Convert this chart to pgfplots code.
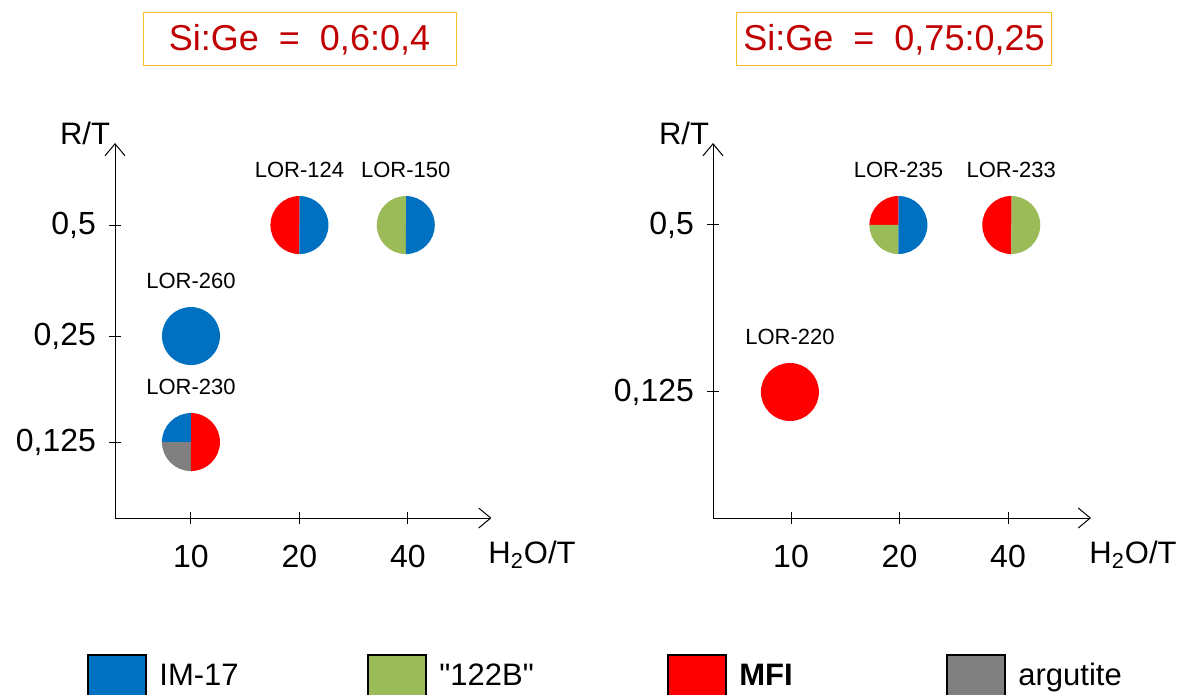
\documentclass[border=0pt]{standalone}
\usepackage{pgfplots}
\pgfplotsset{compat=1.18}
\usepackage{fontspec}
\setmainfont{Liberation Sans}[Ligatures=TeXOff]
\usetikzlibrary{arrows.meta}
\definecolor{imblue}{HTML}{0070C0}
\definecolor{grn}{HTML}{9BBB59}
\definecolor{mfired}{HTML}{FF0000}
\definecolor{gry}{HTML}{808080}
\definecolor{titlered}{HTML}{C00000}
\definecolor{boxorange}{RGB}{250,192,40}
% one wedge of a pie mark: colour, start angle, end angle
\newcommand{\piewedge}[3]{%
  \pgfpathmoveto{\pgfpointorigin}%
  \pgfpathlineto{\pgfpointpolar{#2}{14.5pt}}%
  \pgfpatharc{#2}{#3}{14.5pt}%
  \pgfpathclose
  \pgfsetfillcolor{#1}%
  \pgfusepath{fill}}
% pie marks: quadrants Q1 (top right), Q2 (top left), Q3 (bottom left), Q4 (bottom right)
\newcommand{\declarepie}[5]{%
 \pgfdeclareplotmark{#1}{%
  \piewedge{#2}{0}{90}\piewedge{#3}{90}{180}\piewedge{#4}{180}{270}\piewedge{#5}{270}{360}}}
\declarepie{pie124}{imblue}{mfired}{mfired}{imblue}
\declarepie{pie150}{imblue}{grn}{grn}{imblue}
\declarepie{pie260}{imblue}{imblue}{imblue}{imblue}
\declarepie{pie230}{mfired}{imblue}{gry}{mfired}
\declarepie{pie235}{imblue}{mfired}{grn}{imblue}
\declarepie{pie233}{grn}{mfired}{mfired}{grn}
\declarepie{pie220}{mfired}{mfired}{mfired}{mfired}
\tikzset{lorlabel/.style={font=\fontsize{11}{13}\selectfont, yshift=27.5pt}}
\pgfplotsset{
 swatch/.style={legend image code/.code={\draw[##1, draw=black, line width=1pt] (0pt,-10.5pt) rectangle (29pt,10.5pt);}},
 pieaxis/.style={
  axis lines=left,
  axis line style={line width=0.5pt, black, -{Straight Barb[length=6pt,width=10pt]}},
  x=54.25pt,
  clip=false,
  tick align=center,
  major tick length=6pt,
  tick style={black, line width=0.5pt},
  xtick={1,2,3},
  xticklabels={10,20,40},
  ticklabel style={font=\fontsize{16}{19}\selectfont},
  xticklabel style={yshift=-7pt},
  yticklabel style={xshift=-3pt},
 },
}
\begin{document}
\begin{tikzpicture}
\useasboundingbox (0,0) rectangle (592pt,-347.5pt);
% ---- left panel ----
\begin{axis}[pieaxis,
  at={(57.5pt,-259pt)}, anchor=south west,
  y=54.25pt,
  xmin=0.3, xmax=3.77, ymin=0.3, ymax=3.756,
  ytick={1,1.977,3},
  yticklabels={{0,125},{0,25},{0,5}},
  legend style={at={(-0.0743,-0.4213)}, anchor=west, draw=none, fill=none, inner sep=0pt,
    legend columns=4,
    /tikz/every odd column/.append style={column sep=6pt},
    nodes={inner sep=0pt, font=\fontsize{15.5}{18}\selectfont}},
  legend cell align=left,
]
\addplot[only marks, mark=pie124, forget plot] coordinates {(2,3)};
\addplot[only marks, mark=pie150, forget plot] coordinates {(2.98,3)};
\addplot[only marks, mark=pie260, forget plot] coordinates {(1,1.977)};
\addplot[only marks, mark=pie230, forget plot] coordinates {(1,1)};
\node[lorlabel] at (axis cs:2,3) {LOR-124};
\node[lorlabel] at (axis cs:2.98,3) {LOR-150};
\node[lorlabel] at (axis cs:1,1.977) {LOR-260};
\node[lorlabel] at (axis cs:1,1) {LOR-230};
\addlegendimage{swatch, fill=imblue}
\addlegendentry{\makebox[104pt][l]{IM-17}}
\addlegendimage{swatch, fill=grn}
\addlegendentry{\makebox[114pt][l]{"122B"}}
\addlegendimage{swatch, fill=mfired}
\addlegendentry{\makebox[103.5pt][l]{\textbf{MFI}}}
\addlegendimage{swatch, fill=gry}
\addlegendentry{argutite}
\end{axis}
% ---- right panel ----
\begin{axis}[pieaxis,
  at={(356.5pt,-259pt)}, anchor=south west,
  y=83.5pt,
  xmin=0.281, xmax=3.765, ymin=0.2455, ymax=2.491,
  ytick={1,2},
  yticklabels={{0,125},{0,5}},
]
\addplot[only marks, mark=pie235, forget plot] coordinates {(1.99,2)};
\addplot[only marks, mark=pie233, forget plot] coordinates {(3.03,2)};
\addplot[only marks, mark=pie220, forget plot] coordinates {(0.99,1)};
\node[lorlabel] at (axis cs:1.99,2) {LOR-235};
\node[lorlabel] at (axis cs:3.03,2) {LOR-233};
\node[lorlabel] at (axis cs:0.99,1) {LOR-220};
\end{axis}
% ---- axis labels ----
\node[font=\fontsize{15.5}{18}\selectfont] at (42.5pt,-66.5pt) {R/T};
\node[font=\fontsize{15.5}{18}\selectfont] at (266pt,-277.5pt) {H\textsubscript{2}O/T};
\node[font=\fontsize{15.5}{18}\selectfont] at (342pt,-66.5pt) {R/T};
\node[font=\fontsize{15.5}{18}\selectfont] at (566.5pt,-277.5pt) {H\textsubscript{2}O/T};
% ---- titles ----
\node[draw=boxorange, line width=0.5pt, minimum width=156.5pt, minimum height=26.5pt, text=titlered, font=\fontsize{18}{21}\selectfont] at (149.75pt,-19.75pt) {Si:Ge\ \ =\ \ 0,6:0,4};
\node[draw=boxorange, line width=0.5pt, minimum width=156pt, minimum height=26.5pt, text=titlered, font=\fontsize{18}{21}\selectfont] at (447pt,-19.75pt) {Si:Ge\ \ =\ \ 0,75:0,25};
\end{tikzpicture}
\end{document}
